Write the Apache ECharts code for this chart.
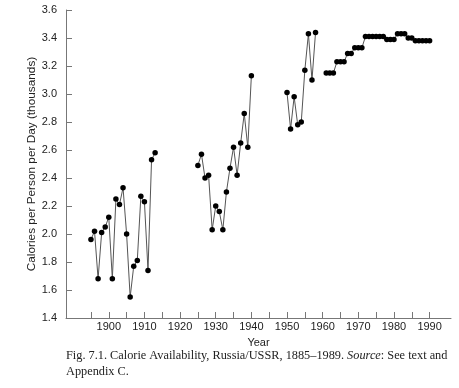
<!DOCTYPE html>
<html><head><meta charset="utf-8">
<script src="https://cdn.jsdelivr.net/npm/echarts@6/dist/echarts.min.js"></script>
<style>html,body{margin:0;padding:0;background:#fff}#c{width:459px;height:388px}</style>
</head><body><div id="c"></div>
<script>
// Data
const years1 = [1895,1896,1897,1898,1899,1900,1901,1902,1903,1904,1905,1906,1907,1908,1909,1910,1911,1912,1913];
const values1 = [1.96,2.02,1.68,2.01,2.05,2.12,1.68,2.25,2.21,2.33,2.00,1.55,1.77,1.81,2.27,2.23,1.74,2.53,2.58];
const years2 = [1925,1926,1927,1928,1929,1930,1931,1932,1933,1934,1935,1936,1937,1938,1939,1940];
const values2 = [2.49,2.57,2.40,2.42,2.03,2.20,2.16,2.03,2.30,2.47,2.62,2.42,2.65,2.86,2.62,3.13];
const years3 = [1950,1951,1952,1953,1954,1955,1956,1957,1958];
const values3 = [3.01,2.75,2.98,2.78,2.80,3.17,3.43,3.10,3.44];
const years4 = [1961,1962,1963,1964,1965,1966,1967,1968,1969,1970,1971,1972,1973,1974,1975,1976,1977,1978,1979,1980,1981,1982,1983,1984,1985,1986,1987,1988,1989,1990];
const values4 = [3.15,3.15,3.15,3.23,3.23,3.23,3.29,3.29,3.33,3.33,3.33,3.41,3.41,3.41,3.41,3.41,3.41,3.39,3.39,3.39,3.43,3.43,3.43,3.40,3.40,3.38,3.38,3.38,3.38,3.38];
const xTickValues = [1895,1900,1905,1910,1915,1920,1925,1930,1935,1940,1945,1950,1955,1960,1965,1970,1975,1980,1985,1990];
const xLabelValues = [1900,1910,1920,1930,1940,1950,1960,1970,1980,1990];

const pairs = (ys, vs) => ys.map((y, i) => [y, vs[i]]);
const chart = echarts.init(document.getElementById('c'), null, {renderer: 'canvas'});
const mkSeries = (ys, vs) => ({
  type: 'line', data: pairs(ys, vs), symbol: 'circle', symbolSize: 5.5,
  itemStyle: {color: '#000'}, lineStyle: {color: '#555', width: 1},
  animation: false, silent: true
});
const axisColor = '#777';
chart.setOption({
  backgroundColor: '#fff',
  grid: {left: 66, right: 8, top: 10, bottom: 70, containLabel: false},
  xAxis: {
    type: 'value', min: 1888, max: 1996,
    name: 'Year', nameLocation: 'middle', nameGap: 19, nameMoveOverlap: false,
    nameTextStyle: {fontFamily: 'Liberation Sans', fontSize: 11, color: '#222'},
    axisLine: {lineStyle: {color: axisColor, width: 1}},
    axisTick: {inside: true, length: 6, lineStyle: {color: axisColor}, customValues: xTickValues},
    axisLabel: {customValues: xLabelValues, fontFamily: 'Liberation Sans', fontSize: 11, color: '#222', margin: 3,
      formatter: v => String(v)},
    splitLine: {show: false}
  },
  yAxis: {
    type: 'value', min: 1.4, max: 3.6, interval: 0.2,
    name: 'Calories per Person per Day (thousands)', nameLocation: 'middle', nameGap: 28, nameMoveOverlap: false,
    nameTextStyle: {fontFamily: 'Liberation Sans', fontSize: 11.8, color: '#222'},
    axisLine: {show: true, lineStyle: {color: axisColor, width: 1}},
    axisTick: {show: true, inside: true, length: 6, lineStyle: {color: axisColor}},
    axisLabel: {fontFamily: 'Liberation Sans', fontSize: 11, color: '#222', margin: 9,
      formatter: v => v.toFixed(1)},
    splitLine: {show: false}
  },
  series: [mkSeries(years1, values1), mkSeries(years2, values2), mkSeries(years3, values3), mkSeries(years4, values4)],
  graphic: [
    {type: 'text', left: 66, top: 350, style: {
      text: '{n|Fig. 7.1. Calorie Availability, Russia/USSR, 1885–1989. }{i|Source}{n|: See text and}',
      rich: {
        n: {fontFamily: 'Liberation Serif', fontSize: 12.3, fill: '#222'},
        i: {fontFamily: 'Liberation Serif', fontStyle: 'italic', fontSize: 12.3, fill: '#222'}
      }
    }},
    {type: 'text', left: 66, top: 366, style: {
      text: 'Appendix C.', fontFamily: 'Liberation Serif', fontSize: 12.3, fill: '#222'
    }}
  ]
});
</script></body></html>
